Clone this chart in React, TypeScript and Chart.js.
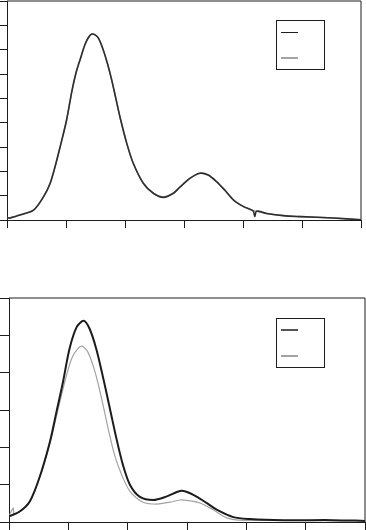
import React, { useEffect, useRef } from "react";
import { Chart, registerables } from "chart.js";

Chart.register(...registerables);

// ---------- Top panel data ----------
const topX = [0, 0.05, 0.22, 0.45, 0.62, 0.73, 0.81, 0.9, 1.01, 1.1, 1.17, 1.24, 1.32, 1.38, 1.435, 1.5, 1.55, 1.63, 1.7, 1.77, 1.84, 1.92, 2.03, 2.14, 2.31, 2.48, 2.65, 2.82, 2.93, 3.1, 3.27, 3.41, 3.55, 3.69, 3.84, 4.01, 4.17, 4.2, 4.23, 4.4, 4.68, 4.97, 5.53, 6.0];
const topBlack = [0.1, 0.08, 0.21, 0.41, 0.96, 1.5, 2.15, 3.0, 4.11, 5.3, 6.05, 6.6, 7.2, 7.5, 7.64, 7.6, 7.47, 7.0, 6.45, 5.8, 5.05, 4.18, 3.15, 2.33, 1.51, 1.1, 0.93, 1.1, 1.35, 1.71, 1.92, 1.85, 1.58, 1.23, 0.82, 0.55, 0.38, 0.14, 0.36, 0.27, 0.18, 0.14, 0.08, 0.01];
const topGray = [0.1, 0.08, 0.21, 0.41, 0.96, 1.5, 2.15, 3.0, 4.11, 5.3, 6.05, 6.6, 7.2, 7.5, 7.64, 7.6, 7.47, 7.0, 6.45, 5.8, 5.05, 4.18, 3.15, 2.33, 1.51, 1.1, 0.95, 1.1, 1.35, 1.71, 1.92, 1.85, 1.58, 1.23, 0.82, 0.55, 0.38, 0.37, 0.36, 0.27, 0.18, 0.14, 0.08, 0.01];

// ---------- Bottom panel data ----------
const botBlackX = [0, 0.18, 0.35, 0.52, 0.69, 0.8, 0.91, 1.02, 1.14, 1.26, 1.36, 1.47, 1.59, 1.7, 1.81, 1.92, 2.04, 2.2, 2.43, 2.65, 2.88, 2.99, 3.16, 3.33, 3.5, 3.78, 4.06, 4.62, 5.46, 6.0];
const botBlack = [0.15, 0.28, 0.55, 1.22, 2.15, 2.95, 3.75, 4.64, 5.22, 5.39, 5.17, 4.64, 3.84, 3.04, 2.24, 1.53, 0.99, 0.68, 0.59, 0.68, 0.83, 0.81, 0.68, 0.51, 0.33, 0.13, 0.08, 0.05, 0.05, 0.03];
const botGrayX = [0, 0.07, 0.09, 0.35, 0.52, 0.69, 0.83, 0.97, 1.08, 1.22, 1.33, 1.45, 1.56, 1.67, 1.78, 1.9, 2.04, 2.26, 2.49, 2.71, 2.88, 2.99, 3.22, 3.44, 3.67, 3.89, 4.62, 6.0];
const botGray = [0.15, 0.37, 0.19, 0.55, 1.22, 2.11, 3.04, 3.93, 4.46, 4.71, 4.55, 4.02, 3.31, 2.51, 1.79, 1.26, 0.82, 0.53, 0.48, 0.53, 0.59, 0.58, 0.51, 0.33, 0.11, 0.05, 0.04, 0.03];

const BLACK = "#1c1c1c";
const GRAY = "#a3a3a3";

const toPoints = (xs: number[], ys: number[]) => xs.map((x, i) => ({ x, y: ys[i] }));

const framePlugin = {
  id: "frameLegend",
  afterDraw(chart: any) {
    const { ctx, chartArea } = chart;
    const o = chart.options.plugins.frameLegend;
    ctx.save();
    ctx.strokeStyle = BLACK;
    ctx.lineWidth = 1;
    ctx.beginPath();
    ctx.moveTo(chartArea.left, chartArea.top);
    ctx.lineTo(chartArea.right, chartArea.top);
    ctx.lineTo(chartArea.right, chartArea.bottom);
    ctx.stroke();
    // legend box
    const bx = Math.round(chartArea.right - o.offRight);
    const by = Math.round(chartArea.top + o.offTop);
    ctx.fillStyle = "#ffffff";
    ctx.fillRect(bx, by, 48, 49);
    ctx.strokeRect(bx + 0.5, by + 0.5, 48, 49);
    ctx.strokeStyle = BLACK;
    ctx.lineWidth = o.blackW;
    ctx.beginPath();
    ctx.moveTo(bx + 5, by + o.blackY);
    ctx.lineTo(bx + 22, by + o.blackY);
    ctx.stroke();
    ctx.strokeStyle = GRAY;
    ctx.lineWidth = 2;
    ctx.beginPath();
    ctx.moveTo(bx + 5, by + 38);
    ctx.lineTo(bx + 22, by + 38);
    ctx.stroke();
    ctx.restore();
  },
};

function makeConfig(
  datasets: any[],
  yMax: number,
  xTick: number,
  yTick: number,
  padding: any,
  legendOpts: any
): any {
  return {
    type: "line",
    data: { datasets },
    options: {
      animation: false,
      responsive: false,
      maintainAspectRatio: false,
      layout: { padding },
      plugins: {
        legend: { display: false },
        tooltip: { enabled: false },
        frameLegend: legendOpts,
      },
      elements: { point: { radius: 0 }, line: { tension: 0.3 } },
      scales: {
        x: {
          type: "linear",
          min: 0,
          max: 6,
          ticks: { display: false, stepSize: 1 },
          grid: { drawOnChartArea: false, drawTicks: true, tickLength: xTick, color: BLACK, lineWidth: 1 },
          border: { display: true, color: BLACK, width: 1 },
        },
        y: {
          type: "linear",
          min: 0,
          max: yMax,
          ticks: { display: false, stepSize: 1 },
          grid: { drawOnChartArea: false, drawTicks: true, tickLength: yTick, color: BLACK, lineWidth: 1 },
          border: { display: true, color: BLACK, width: 1 },
        },
      },
    },
    plugins: [framePlugin],
  };
}

function Panel({ top, height, config }: { top: number; height: number; config: any }) {
  const ref = useRef<HTMLCanvasElement | null>(null);
  useEffect(() => {
    if (!ref.current) return;
    const chart = new Chart(ref.current, config);
    return () => chart.destroy();
  }, []);
  return (
    <canvas
      ref={ref}
      width={366}
      height={height}
      style={{ position: "absolute", left: 0, top, width: 366, height }}
    />
  );
}

export default function App() {
  // first dataset is drawn on top in Chart.js
  const topConfig = makeConfig(
    [
      { data: toPoints(topX, topBlack), borderColor: "#2e2e2e", borderWidth: 1.6, fill: false },
      { data: toPoints(topX, topGray), borderColor: GRAY, borderWidth: 1.5, fill: false },
    ],
    9,
    8,
    7,
    { left: 0, right: 5, top: 1, bottom: 2 },
    { offRight: 85, offTop: 19, blackW: 1, blackY: 12.5 }
  );
  const botConfig = makeConfig(
    [
      { data: toPoints(botBlackX, botBlack), borderColor: BLACK, borderWidth: 2, fill: false },
      { data: toPoints(botGrayX, botGray), borderColor: GRAY, borderWidth: 1.2, fill: false },
    ],
    6,
    8,
    9,
    { left: 0, right: 1, top: 8, bottom: 0 },
    { offRight: 89, offTop: 20, blackW: 1.5, blackY: 12 }
  );
  return (
    <div style={{ position: "absolute", left: 0, top: 0, width: 366, height: 530, background: "#fff", overflow: "hidden" }}>
      <Panel top={0} height={230} config={topConfig} />
      <Panel top={290} height={240} config={botConfig} />
    </div>
  );
}
